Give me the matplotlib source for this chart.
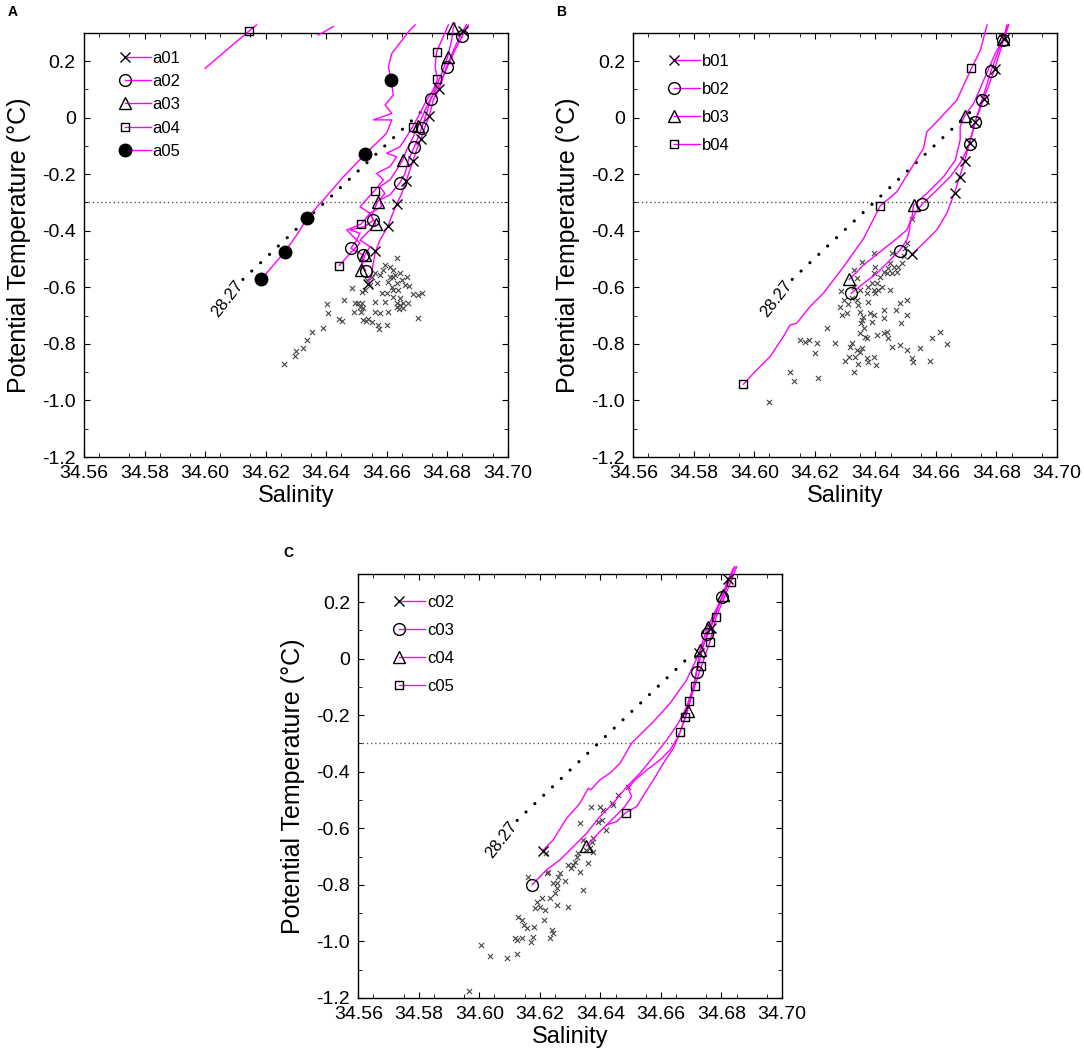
import numpy as np
import matplotlib
matplotlib.use('Agg')
import matplotlib.pyplot as plt
from matplotlib.lines import Line2D
from matplotlib.legend_handler import HandlerLine2D

plt.rcParams['font.family'] = ['Liberation Sans', 'DejaVu Sans']

# ---------------- data (salinity, potential temperature) ----------------
# 28.27 isopycnal (end points) and its label position
iso_line = [(34.6125, -0.572), (34.6717, 0.024)]
iso_line_c = [(34.6125, -0.572), (34.6685, -0.002)]
iso_label = (34.6073, -0.641)

# panel A profiles
a01_line = [(34.6539, -0.587), (34.6550, -0.550), (34.6563, -0.473), (34.6578, -0.433),
            (34.6605, -0.383), (34.6616, -0.350), (34.6633, -0.306), (34.6650, -0.268),
            (34.6664, -0.224), (34.6677, -0.185), (34.6687, -0.153), (34.6699, -0.114),
            (34.6713, -0.077), (34.6727, -0.032), (34.6741, 0.007), (34.6754, 0.062),
            (34.6773, 0.100), (34.6798, 0.180), (34.6826, 0.251), (34.6851, 0.306),
            (34.6864, 0.328)]
a01_mark = [(34.6539, -0.587), (34.6563, -0.473), (34.6605, -0.383), (34.6633, -0.306),
            (34.6664, -0.224), (34.6687, -0.153), (34.6713, -0.077), (34.6741, 0.007),
            (34.6773, 0.100), (34.6851, 0.306)]
a02_line = [(34.6531, -0.541), (34.6517, -0.515), (34.6523, -0.486), (34.6482, -0.462),
            (34.6501, -0.433), (34.6512, -0.409), (34.6479, -0.397), (34.6528, -0.385),
            (34.6556, -0.362), (34.6545, -0.338), (34.6583, -0.315), (34.6578, -0.291),
            (34.6611, -0.273), (34.6644, -0.230), (34.6661, -0.197), (34.6672, -0.150),
            (34.6691, -0.104), (34.6705, -0.067), (34.6716, -0.035), (34.6732, 0.015),
            (34.6746, 0.067), (34.6776, 0.121), (34.6800, 0.178), (34.6826, 0.239),
            (34.6850, 0.289), (34.6870, 0.328)]
a02_mark = [(34.6531, -0.541), (34.6523, -0.486), (34.6482, -0.462), (34.6556, -0.362),
            (34.6644, -0.230), (34.6691, -0.104), (34.6716, -0.035), (34.6746, 0.067),
            (34.6800, 0.178), (34.6850, 0.289)]
a03_line = [(34.6515, -0.539), (34.6528, -0.486), (34.6545, -0.456), (34.6512, -0.433),
            (34.6564, -0.376), (34.6550, -0.350), (34.6570, -0.297), (34.6594, -0.268),
            (34.6578, -0.244), (34.6611, -0.220), (34.6633, -0.185), (34.6653, -0.150),
            (34.6666, -0.114), (34.6683, -0.079), (34.6705, -0.029), (34.6727, 0.027),
            (34.6754, 0.086), (34.6782, 0.157), (34.6802, 0.216), (34.6815, 0.275),
            (34.6820, 0.316), (34.6826, 0.334)]
a03_mark = [(34.6515, -0.539), (34.6528, -0.486), (34.6564, -0.376), (34.6570, -0.297),
            (34.6653, -0.150), (34.6705, -0.029), (34.6802, 0.216), (34.6820, 0.316)]
a04_line = [(34.6444, -0.523), (34.6479, -0.480), (34.6512, -0.444), (34.6490, -0.421),
            (34.6468, -0.397), (34.6515, -0.377), (34.6545, -0.338), (34.6512, -0.315),
            (34.6560, -0.258), (34.6589, -0.220), (34.6567, -0.197), (34.6611, -0.173),
            (34.6633, -0.138), (34.6600, -0.126), (34.6644, -0.103), (34.6666, -0.067),
            (34.6686, -0.032), (34.6710, 0.015), (34.6732, 0.062), (34.6754, 0.098),
            (34.6768, 0.136), (34.6760, 0.180), (34.6765, 0.233), (34.6787, 0.286),
            (34.6804, 0.328)]
a04_top1 = [(34.6000, 0.174), (34.6071, 0.239), (34.6145, 0.306), (34.6170, 0.328)]
a04_top2 = [(34.6374, 0.292), (34.6424, 0.322)]
a04_mark = [(34.6444, -0.523), (34.6515, -0.377), (34.6560, -0.258), (34.6686, -0.032),
            (34.6768, 0.136), (34.6765, 0.233), (34.6145, 0.306)]
a05_line = [(34.6186, -0.572), (34.6226, -0.521), (34.6264, -0.474), (34.6303, -0.415),
            (34.6338, -0.354), (34.6391, -0.291), (34.6457, -0.209), (34.6528, -0.130),
            (34.6600, -0.055), (34.6617, -0.008), (34.6556, -0.008), (34.6617, 0.015),
            (34.6595, 0.045), (34.6622, 0.080), (34.6615, 0.133), (34.6606, 0.180),
            (34.6617, 0.227), (34.6677, 0.310), (34.6694, 0.328)]
a05_mark = [(34.6186, -0.572), (34.6264, -0.474), (34.6338, -0.354), (34.6528, -0.130),
            (34.6615, 0.133)]
a_ctd = [(34.6262, -0.872), (34.6297, -0.843), (34.6300, -0.824), (34.6322, -0.816),
         (34.6336, -0.788), (34.6355, -0.757), (34.6391, -0.745), (34.6405, -0.692),
         (34.6404, -0.660), (34.6444, -0.713), (34.6452, -0.718), (34.6460, -0.645),
         (34.6486, -0.603), (34.6493, -0.689), (34.6496, -0.656), (34.6504, -0.654),
         (34.6512, -0.668), (34.6518, -0.656), (34.6523, -0.674), (34.6514, -0.686),
         (34.6523, -0.715), (34.6532, -0.718), (34.6540, -0.713), (34.6551, -0.721),
         (34.6562, -0.689), (34.6562, -0.651), (34.6573, -0.733), (34.6576, -0.748),
         (34.6600, -0.733), (34.6578, -0.692), (34.6595, -0.651), (34.6606, -0.686),
         (34.6705, -0.710), (34.6716, -0.619), (34.6702, -0.627), (34.6686, -0.623),
         (34.6675, -0.595), (34.6661, -0.592), (34.6666, -0.562), (34.6633, -0.497),
         (34.6595, -0.521), (34.6611, -0.527), (34.6622, -0.539), (34.6644, -0.550),
         (34.6622, -0.562), (34.6633, -0.586), (34.6617, -0.598), (34.6639, -0.609),
         (34.6600, -0.621), (34.6622, -0.633), (34.6633, -0.656), (34.6644, -0.662),
         (34.6655, -0.656), (34.6672, -0.656), (34.6584, -0.621), (34.6567, -0.586),
         (34.6562, -0.550), (34.6551, -0.562), (34.6534, -0.574), (34.6529, -0.609),
         (34.6518, -0.615), (34.6545, -0.592), (34.6578, -0.556), (34.6589, -0.539),
         (34.6606, -0.580), (34.6622, -0.609), (34.6611, -0.562), (34.6628, -0.556),
         (34.6650, -0.574), (34.6644, -0.639), (34.6635, -0.668), (34.6641, -0.678),
         (34.6655, -0.674)]

# panel B profiles
b01_line = [(34.6521, -0.483), (34.6559, -0.444), (34.6603, -0.397), (34.6636, -0.338),
            (34.6662, -0.265), (34.6678, -0.209), (34.6695, -0.153), (34.6711, -0.088),
            (34.6730, -0.014), (34.6758, 0.066), (34.6794, 0.172), (34.6824, 0.277),
            (34.6840, 0.328)]
b01_mark = [(34.6521, -0.483), (34.6662, -0.265), (34.6678, -0.209), (34.6695, -0.153),
            (34.6711, -0.088), (34.6730, -0.014), (34.6758, 0.066), (34.6794, 0.172),
            (34.6824, 0.277)]
b02_line = [(34.6320, -0.621), (34.6361, -0.586), (34.6405, -0.550), (34.6449, -0.503),
            (34.6480, -0.470), (34.6504, -0.433), (34.6513, -0.397), (34.6515, -0.368),
            (34.6532, -0.338), (34.6554, -0.306), (34.6603, -0.256), (34.6647, -0.209),
            (34.6680, -0.161), (34.6697, -0.126), (34.6711, -0.093), (34.6730, -0.014),
            (34.6752, 0.062), (34.6782, 0.165), (34.6820, 0.275), (34.6840, 0.328)]
b02_mark = [(34.6320, -0.621), (34.6480, -0.470), (34.6554, -0.306), (34.6711, -0.093),
            (34.6730, -0.014), (34.6752, 0.062), (34.6782, 0.165), (34.6820, 0.275)]
b03_line = [(34.6314, -0.572), (34.6361, -0.521), (34.6416, -0.474), (34.6471, -0.427),
            (34.6504, -0.397), (34.6521, -0.350), (34.6526, -0.309), (34.6570, -0.268),
            (34.6625, -0.209), (34.6664, -0.150), (34.6680, -0.079), (34.6680, -0.032),
            (34.6695, 0.007), (34.6725, 0.051), (34.6758, 0.133), (34.6796, 0.227),
            (34.6822, 0.277), (34.6835, 0.328)]
b03_mark = [(34.6314, -0.572), (34.6526, -0.309), (34.6695, 0.007), (34.6822, 0.277)]
b04_line = [(34.5964, -0.943), (34.5997, -0.904), (34.6052, -0.845), (34.6096, -0.774),
            (34.6118, -0.733), (34.6140, -0.727), (34.6184, -0.668), (34.6228, -0.621),
            (34.6295, -0.527), (34.6361, -0.427), (34.6416, -0.312), (34.6471, -0.262),
            (34.6515, -0.185), (34.6559, -0.108), (34.6570, -0.050), (34.6603, -0.014),
            (34.6669, 0.062), (34.6717, 0.174), (34.6747, 0.239), (34.6769, 0.328)]
b04_mark = [(34.5964, -0.943), (34.6416, -0.312), (34.6717, 0.174)]
b_ctd = [(34.6047, -1.004), (34.6118, -0.900), (34.6131, -0.931), (34.6210, -0.922),
         (34.6151, -0.788), (34.6168, -0.792), (34.6181, -0.786), (34.6206, -0.796),
         (34.6201, -0.831), (34.6239, -0.743), (34.6267, -0.798), (34.6287, -0.612),
         (34.6284, -0.671), (34.6289, -0.698), (34.6306, -0.692), (34.6311, -0.659),
         (34.6317, -0.810), (34.6322, -0.798), (34.6328, -0.898), (34.6314, -0.845),
         (34.6300, -0.859), (34.6333, -0.845), (34.6339, -0.821), (34.6350, -0.827),
         (34.6341, -0.871), (34.6355, -0.813), (34.6372, -0.851), (34.6375, -0.863),
         (34.6403, -0.875), (34.6394, -0.847), (34.6361, -0.745), (34.6350, -0.763),
         (34.6352, -0.727), (34.6355, -0.715), (34.6359, -0.704), (34.6366, -0.774),
         (34.6372, -0.780), (34.6377, -0.651), (34.6383, -0.692), (34.6388, -0.721),
         (34.6396, -0.698), (34.6405, -0.768), (34.6427, -0.763), (34.6438, -0.757),
         (34.6443, -0.780), (34.6454, -0.810), (34.6482, -0.804), (34.6504, -0.821),
         (34.6548, -0.813), (34.6581, -0.860), (34.6614, -0.757), (34.6636, -0.801),
         (34.6587, -0.778), (34.6521, -0.851), (34.6524, -0.863), (34.6484, -0.727),
         (34.6469, -0.680), (34.6482, -0.656), (34.6504, -0.698), (34.6506, -0.645),
         (34.6449, -0.609), (34.6427, -0.680), (34.6429, -0.710), (34.6410, -0.609),
         (34.6421, -0.598), (34.6405, -0.586), (34.6394, -0.550), (34.6399, -0.527),
         (34.6414, -0.562), (34.6427, -0.545), (34.6438, -0.550), (34.6443, -0.533),
         (34.6449, -0.515), (34.6460, -0.527), (34.6454, -0.550), (34.6471, -0.545),
         (34.6476, -0.527), (34.6488, -0.515), (34.6493, -0.491), (34.6499, -0.462),
         (34.6504, -0.444), (34.6521, -0.359), (34.6454, -0.480), (34.6394, -0.480),
         (34.6355, -0.509), (34.6328, -0.539), (34.6339, -0.568), (34.6350, -0.609),
         (34.6322, -0.639), (34.6328, -0.598), (34.6295, -0.645), (34.6339, -0.645),
         (34.6344, -0.662), (34.6350, -0.686), (34.6372, -0.621), (34.6377, -0.598),
         (34.6388, -0.586), (34.6394, -0.609), (34.6399, -0.621)]

# panel C profiles
c02_line = [(34.6209, -0.679), (34.6244, -0.641), (34.6288, -0.565), (34.6332, -0.512),
            (34.6360, -0.458), (34.6368, -0.464), (34.6398, -0.429), (34.6431, -0.405),
            (34.6465, -0.370), (34.6503, -0.299), (34.6536, -0.264), (34.6575, -0.223),
            (34.6630, -0.158), (34.6685, -0.075), (34.6727, 0.021), (34.6764, 0.107),
            (34.6822, 0.281), (34.6844, 0.325)]
c02_mark = [(34.6209, -0.679), (34.6727, 0.021), (34.6764, 0.107), (34.6822, 0.281)]
c03_line = [(34.6174, -0.800), (34.6222, -0.747), (34.6266, -0.712), (34.6310, -0.665),
            (34.6354, -0.618), (34.6398, -0.559), (34.6442, -0.512), (34.6487, -0.453),
            (34.6531, -0.405), (34.6575, -0.347), (34.6619, -0.288), (34.6657, -0.229),
            (34.6685, -0.170), (34.6707, -0.099), (34.6718, -0.046), (34.6751, 0.087),
            (34.6803, 0.217), (34.6844, 0.325)]
c03_mark = [(34.6174, -0.800), (34.6718, -0.046), (34.6751, 0.087), (34.6803, 0.217)]
c04_line = [(34.6354, -0.662), (34.6398, -0.612), (34.6442, -0.565), (34.6481, -0.523),
            (34.6503, -0.488), (34.6492, -0.458), (34.6514, -0.429), (34.6553, -0.394),
            (34.6597, -0.358), (34.6630, -0.323), (34.6657, -0.276), (34.6674, -0.229),
            (34.6688, -0.184), (34.6707, -0.111), (34.6729, 0.031), (34.6754, 0.113),
            (34.6806, 0.225), (34.6839, 0.319)]
c04_mark = [(34.6354, -0.662), (34.6688, -0.184), (34.6729, 0.031), (34.6754, 0.113),
            (34.6806, 0.225)]
c05_line = [(34.6420, -0.588), (34.6454, -0.576), (34.6483, -0.545), (34.6520, -0.523),
            (34.6547, -0.476), (34.6575, -0.429), (34.6608, -0.370), (34.6641, -0.317),
            (34.6663, -0.260), (34.6681, -0.205), (34.6694, -0.151), (34.6712, -0.097),
            (34.6734, -0.026), (34.6762, 0.060), (34.6782, 0.146), (34.6830, 0.270),
            (34.6850, 0.325)]
c05_mark = [(34.6483, -0.545), (34.6663, -0.260), (34.6681, -0.205), (34.6694, -0.151),
            (34.6712, -0.097), (34.6734, -0.026), (34.6762, 0.060), (34.6782, 0.146),
            (34.6830, 0.270)]
c_ctd = [(34.5967, -1.174), (34.6005, -1.012), (34.6035, -1.051), (34.6090, -1.057),
         (34.6125, -1.045), (34.6118, -0.989), (34.6123, -0.995), (34.6140, -0.989),
         (34.6129, -0.912), (34.6140, -0.924), (34.6147, -0.942), (34.6156, -0.953),
         (34.6169, -1.001), (34.6178, -0.983), (34.6180, -0.948), (34.6184, -0.883),
         (34.6189, -0.859), (34.6200, -0.877), (34.6206, -0.847), (34.6213, -0.924),
         (34.6217, -0.889), (34.6233, -0.989), (34.6239, -0.959), (34.6244, -0.971),
         (34.6233, -0.847), (34.6250, -0.830), (34.6255, -0.812), (34.6257, -0.871),
         (34.6261, -0.771), (34.6266, -0.759), (34.6283, -0.788), (34.6294, -0.877),
         (34.6294, -0.730), (34.6302, -0.741), (34.6310, -0.730), (34.6316, -0.718),
         (34.6321, -0.700), (34.6327, -0.688), (34.6332, -0.753), (34.6343, -0.818),
         (34.6360, -0.724), (34.6354, -0.677), (34.6365, -0.671), (34.6376, -0.682),
         (34.6371, -0.647), (34.6374, -0.635), (34.6332, -0.582), (34.6343, -0.641),
         (34.6368, -0.523), (34.6398, -0.523), (34.6409, -0.535), (34.6404, -0.570),
         (34.6393, -0.576), (34.6420, -0.606), (34.6437, -0.512), (34.6442, -0.517),
         (34.6459, -0.482), (34.6492, -0.453), (34.6162, -0.771), (34.6220, -0.688),
         (34.6228, -0.753), (34.6222, -0.759), (34.6255, -0.792), (34.6244, -0.792)]

# axis ticks
xticks = [34.56, 34.58, 34.60, 34.62, 34.64, 34.66, 34.68, 34.70]
xtick_labels = ['34.56', '34.58', '34.60', '34.62', '34.64', '34.66', '34.68', '34.70']
yticks = [-1.2, -1.0, -0.8, -0.6, -0.4, -0.2, 0.0, 0.2]
ytick_labels = ['-1.2', '-1.0', '-0.8', '-0.6', '-0.4', '-0.2', '0', '0.2']

# marker styles for station order within each transect
styles = [dict(marker='x', ms=6.5, mew=1.0, mec='k', mfc='none'),
          dict(marker='o', ms=8.5, mew=1.0, mec='k', mfc='none'),
          dict(marker='^', ms=8, mew=1.0, mec='k', mfc='none'),
          dict(marker='s', ms=6, mew=1.0, mec='k', mfc='none'),
          dict(marker='o', ms=9, mew=1.0, mec='k', mfc='k')]
MAG = '#ff00ff'


class MarkerFirst(HandlerLine2D):
    # legend key with the symbol only at the left end of the line
    def create_artists(self, legend, orig_handle, xdescent, ydescent, width, height,
                       fontsize, trans):
        arts = super().create_artists(legend, orig_handle, xdescent, ydescent, width,
                                      height, fontsize, trans)
        for a in arts:
            a.set_markevery([0])
        return arts


def setup_axes(ax):
    ax.set_xlim(34.56, 34.70)
    ax.set_ylim(-1.2, 0.3)
    ax.set_xticks(xticks)
    ax.set_xticklabels(xtick_labels)
    ax.set_yticks(yticks)
    ax.set_yticklabels(ytick_labels)
    ax.set_xticks(np.arange(34.565, 34.70, 0.01), minor=True)
    ax.set_yticks(np.arange(-1.1, 0.3, 0.2), minor=True)
    ax.tick_params(which='both', direction='in', top=True, right=True, labelsize=14, pad=6)
    ax.tick_params(which='major', length=4)
    ax.tick_params(which='minor', length=3)
    for sp in ax.spines.values():
        sp.set_linewidth(1.0)
    ax.set_xlabel('Salinity', fontsize=17, labelpad=2)
    ax.set_ylabel('Potential Temperature (°C)', fontsize=18, labelpad=8)
    ax.axhline(-0.3, color='#555555', lw=1.0, ls=(0, (1, 2)), zorder=1)


def draw_panel(ax, lines, marks, extra, ctd, names, iso, lspacing, ltop):
    setup_axes(ax)
    ctd = np.array(ctd)
    ax.scatter(ctd[:, 0], ctd[:, 1], marker='x', s=14, linewidths=0.8, color='#444444', zorder=2)
    iso = np.array(iso)
    ax.plot(iso[:, 0], iso[:, 1], color='k', lw=2.3, ls=(0, (0.01, 3.8)),
            dash_capstyle='round', zorder=2)
    ax.text(iso_label[0], iso_label[1], '28.27', fontsize=12, rotation=52,
            ha='center', va='center', zorder=3)
    for seg in extra:
        seg = np.array(seg)
        ax.plot(seg[:, 0], seg[:, 1], color=MAG, lw=1.0, zorder=3, clip_on=False)
    handles = []
    for i, (ln, mk) in enumerate(zip(lines, marks)):
        ln = np.array(ln)
        mk = np.array(mk)
        ax.plot(ln[:, 0], ln[:, 1], color=MAG, lw=1.0, zorder=3, clip_on=False)
        ax.plot(mk[:, 0], mk[:, 1], ls='none', zorder=4, clip_on=False, **styles[i])
        handles.append(Line2D([], [], color=MAG, lw=1.0, **styles[i]))
    ax.legend(handles, names, loc='upper left', bbox_to_anchor=(0.085, ltop),
              frameon=False, fontsize=12, numpoints=2, handlelength=2.16,
              handletextpad=-0.2, labelspacing=lspacing, borderaxespad=0, borderpad=0,
              handler_map={Line2D: MarkerFirst(numpoints=2)})


fig = plt.figure(figsize=(10.84, 10.6), dpi=100)
axA = fig.add_axes([84 / 1084, 1 - 457 / 1060, 423.7 / 1084, 424.2 / 1060])
axB = fig.add_axes([633.3 / 1084, 1 - 457 / 1060, 423.7 / 1084, 424.2 / 1060])
axC = fig.add_axes([358.3 / 1084, 1 - 998 / 1060, 423.7 / 1084, 424.2 / 1060])

draw_panel(axA, [a01_line, a02_line, a03_line, a04_line, a05_line],
           [a01_mark, a02_mark, a03_mark, a04_mark, a05_mark],
           [a04_top1, a04_top2], a_ctd, ['a01', 'a02', 'a03', 'a04', 'a05'],
           iso_line, 0.5, 0.958)
draw_panel(axB, [b01_line, b02_line, b03_line, b04_line],
           [b01_mark, b02_mark, b03_mark, b04_mark],
           [], b_ctd, ['b01', 'b02', 'b03', 'b04'], iso_line, 0.78, 0.95)
draw_panel(axC, [c02_line, c03_line, c04_line, c05_line],
           [c02_mark, c03_mark, c04_mark, c05_mark],
           [], c_ctd, ['c02', 'c03', 'c04', 'c05'], iso_line_c, 0.78, 0.95)

fig.text(0.012, 0.989, 'A', fontsize=10, fontweight='bold', va='center', ha='center')
fig.text(0.5175, 0.989, 'B', fontsize=10, fontweight='bold', va='center', ha='center')
fig.text(0.2657, 0.478, 'C', fontsize=10, fontweight='bold', va='center', ha='center')

fig.savefig('out.png', dpi=100)
